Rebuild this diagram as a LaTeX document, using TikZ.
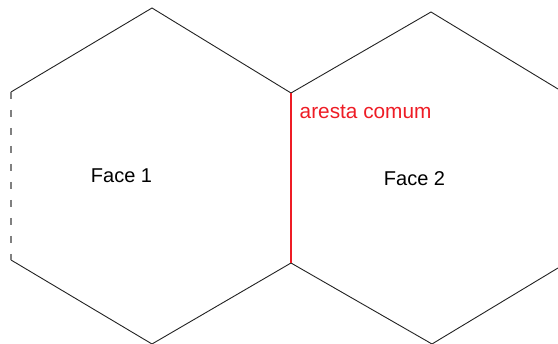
\documentclass[tikz,border=0pt]{standalone}
\usepackage{fontspec}
\setmainfont{Liberation Sans}
\definecolor{edgered}{HTML}{EE1C25}
\definecolor{edgegray}{HTML}{222222}
\tikzset{
  edge/.style={draw=edgegray, line width=0.9pt},
  hidden/.style={draw=gray, line width=1.1pt, dash pattern=on 7pt off 11pt},
  common/.style={draw=edgered, line width=2.8pt},
  facelabel/.style={font=\fontsize{20}{22}\selectfont, text=black, inner sep=0pt},
  redlabel/.style={font=\fontsize{20.8}{22}\selectfont, text=edgered, inner sep=0pt, anchor=base west}
}
\begin{document}
\begin{tikzpicture}[x=1pt,y=-1pt]
\useasboundingbox (0,0) rectangle (558,344);
\clip (0,0) rectangle (558,344);
% left hexagon
\coordinate (LT) at (152,8);
\coordinate (LUL) at (11,92);
\coordinate (LLL) at (11,260);
\coordinate (LB) at (152,344);
\coordinate (CT) at (291,93);
\coordinate (CB) at (291,263);
% right hexagon
\coordinate (RT) at (431,12);
\coordinate (RUR) at (558,89);
\coordinate (RLR) at (558,268);
\coordinate (RB) at (432,344);
\draw[edge] (LUL) -- (LT) -- (CT);
\draw[edge] (LLL) -- (LB) -- (CB);
\draw[hidden] (LUL) -- (LLL);
\draw[edge] (CT) -- (RT) -- (RUR);
\draw[edge] (CB) -- (RB) -- (RLR);
\draw[common] (CT) -- (CB);
\node[facelabel] (f1) at (121.5,176) {Face 1};
\node[facelabel] (f2) at (414.5,179) {Face 2};
\node[redlabel] (ac) at (299.5,119) {aresta comum};
\end{tikzpicture}
\end{document}
